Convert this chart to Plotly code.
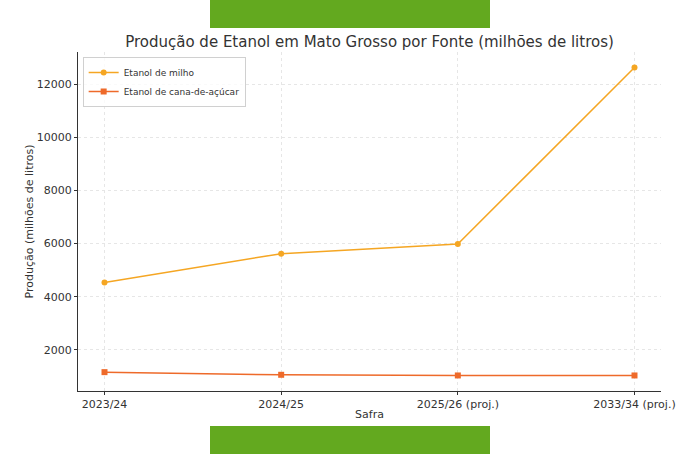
import plotly.graph_objects as go

# Dados de produção (milhões de litros)
safras = ["2023/24", "2024/25", "2025/26 (proj.)", "2033/34 (proj.)"]
etanol_milho = [4530, 5620, 5980, 12630]
etanol_cana = [1160, 1060, 1035, 1035]

fig = go.Figure()
fig.add_trace(go.Scatter(
    x=safras, y=etanol_milho, name="Etanol de milho",
    mode="lines+markers",
    line=dict(color="#F5A623", width=1.5),
    marker=dict(symbol="circle", size=6, color="#F5A623"),
))
fig.add_trace(go.Scatter(
    x=safras, y=etanol_cana, name="Etanol de cana-de-açúcar",
    mode="lines+markers",
    line=dict(color="#EE6A2A", width=1.5),
    marker=dict(symbol="square", size=6, color="#EE6A2A"),
))

eixo = dict(
    showline=True, linecolor="#333333", linewidth=1,
    ticks="outside", ticklen=3, tickcolor="#333333",
    showgrid=True, gridcolor="#e6e6e6", griddash="dot", gridwidth=1,
    zeroline=False, tickfont=dict(size=11, color="#333333"),
    automargin=False,
)

fig.update_xaxes(
    eixo, range=[-0.15, 3.15], ticklabelstandoff=0,
    title=dict(text="Safra", font=dict(size=11, color="#333333"), standoff=0),
)
fig.update_yaxes(
    eixo, range=[450, 13210], dtick=2000, tickformat="d",
    title=dict(text="Produção (milhões de litros)", font=dict(size=11, color="#333333"), standoff=0),
)

# faixas verdes decorativas em cima e embaixo
for y0, y1 in [(426, 454), (0, 28)]:
    fig.add_shape(type="rect", xref="paper", yref="paper",
                  x0=(210 - 78) / 583, x1=(490 - 78) / 583,
                  y0=(454 - y1 - 63) / 339, y1=(454 - y0 - 63) / 339,
                  fillcolor="#63A91F", line_width=0, layer="above")

fig.update_layout(
    width=700, height=454,
    font=dict(family="DejaVu Sans", color="#333333"),
    title=dict(text="Produção de Etanol em Mato Grosso por Fonte (milhões de litros)",
               x=(78 + 291.5) / 700, xanchor="center", y=1 - 42 / 454, yanchor="middle",
               font=dict(size=15, color="#333333")),
    plot_bgcolor="white", paper_bgcolor="white",
    margin=dict(l=78, r=39, t=52, b=63),
    legend=dict(x=0.008, y=0.985, xanchor="left", yanchor="top",
                bgcolor="rgba(255,255,255,0.8)", bordercolor="#d0d0d0", borderwidth=1,
                font=dict(size=9, color="#333333"), tracegroupgap=0, itemwidth=30),
    showlegend=True,
)

# tira a margem padrão do body para a figura ocupar a janela toda
fig.write_html("out.html", config={"displayModeBar": False},
               post_script="document.body.style.margin='0';")
